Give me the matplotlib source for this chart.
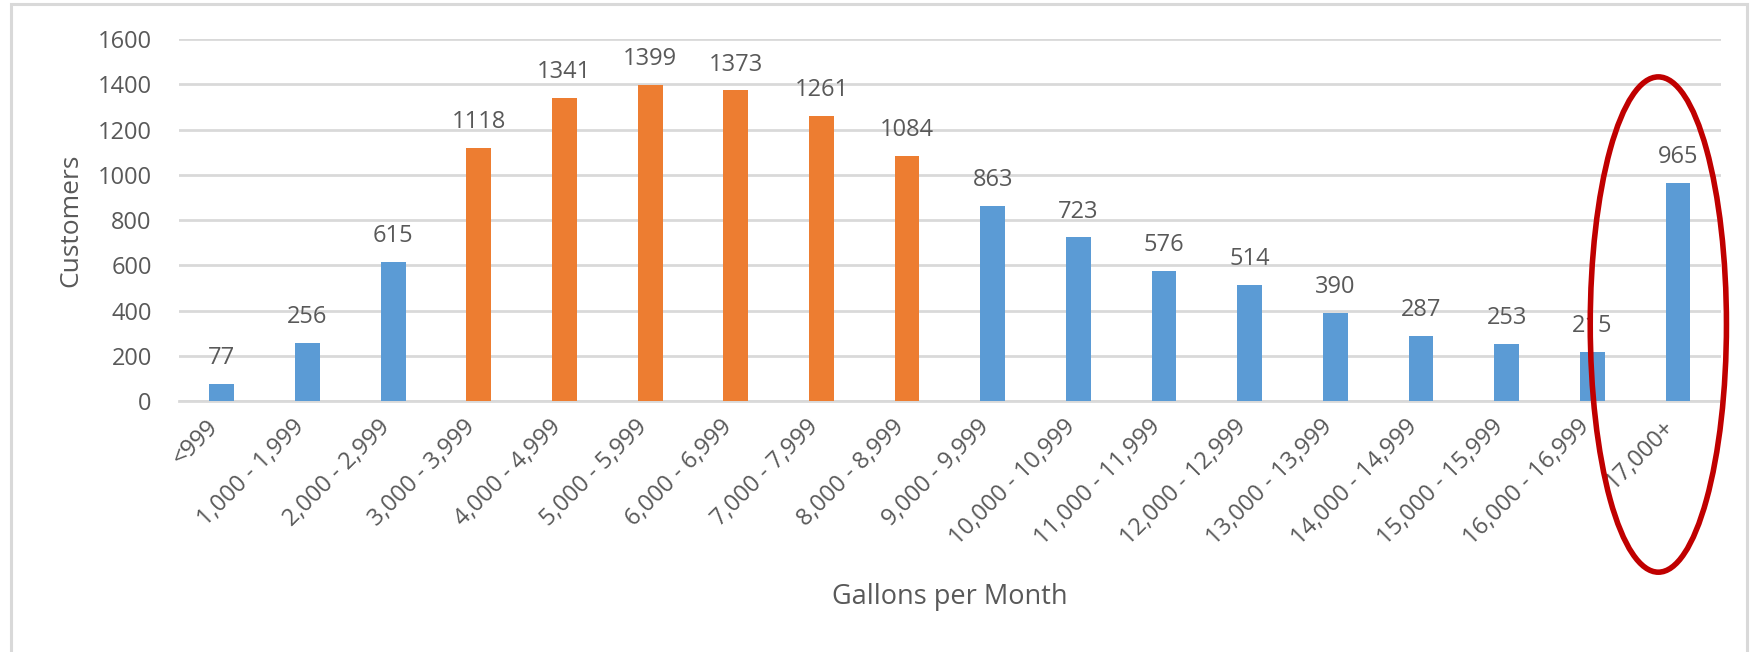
import numpy as np
import matplotlib
matplotlib.use("Agg")
import matplotlib.pyplot as plt
from matplotlib.patches import Ellipse, Rectangle
import matplotlib.transforms as mtransforms

plt.rcParams['font.family'] = ['Open Sans', 'DejaVu Sans']

# datos
rangos = ["<999", "1,000 - 1,999", "2,000 - 2,999", "3,000 - 3,999", "4,000 - 4,999",
          "5,000 - 5,999", "6,000 - 6,999", "7,000 - 7,999", "8,000 - 8,999",
          "9,000 - 9,999", "10,000 - 10,999", "11,000 - 11,999", "12,000 - 12,999",
          "13,000 - 13,999", "14,000 - 14,999", "15,000 - 15,999", "16,000 - 16,999",
          "17,000+"]
clientes = [77, 256, 615, 1118, 1341, 1399, 1373, 1261, 1084,
            863, 723, 576, 514, 390, 287, 253, 215, 965]
resaltados = [3, 4, 5, 6, 7, 8]  # barras naranjas
y_ticks = [0, 200, 400, 600, 800, 1000, 1200, 1400, 1600]

AZUL = "#5B9BD5"
NARANJA = "#ED7D31"
GRIS_TXT = "#595959"
GRIS_LIN = "#D9D9D9"
TAM = 17

fig = plt.figure(figsize=(17.56, 6.52), dpi=100)
ax = fig.add_axes([0.1019, 0.385, 0.8781, 0.555])

x = np.arange(len(rangos))
colores = [NARANJA if i in resaltados else AZUL for i in x]
barras = ax.bar(x, clientes, width=0.29, color=colores, zorder=3)

for xi, v in zip(x, clientes):
    ax.annotate(str(v), (xi, v), xytext=(0, 10), textcoords="offset points",
                ha="center", va="bottom", fontsize=TAM, color=GRIS_TXT, zorder=4)

ax.set_xlim(-0.5, len(rangos) - 0.5)
ax.set_ylim(0, 1600)
ax.set_yticks(y_ticks)
ax.yaxis.grid(True, color=GRIS_LIN, linewidth=2, zorder=0)
ax.set_axisbelow(True)
for s in ["top", "right", "left"]:
    ax.spines[s].set_visible(False)
ax.spines["bottom"].set_color(GRIS_LIN)
ax.spines["bottom"].set_linewidth(2)
ax.tick_params(axis="y", length=0, pad=19.5, labelsize=TAM, labelcolor=GRIS_TXT)
ax.tick_params(axis="x", length=0, pad=10)

ax.set_xticks(x)
ax.set_xticklabels(rangos, rotation=45, ha="right", va="top",
                   rotation_mode="anchor", fontsize=TAM, color=GRIS_TXT)
desplazar = mtransforms.ScaledTranslation(-11 / 72, 0, fig.dpi_scale_trans)
for lab in ax.get_xticklabels():
    lab.set_transform(lab.get_transform() + desplazar)

ax.set_ylabel("Customers", fontsize=19, color=GRIS_TXT, labelpad=10)
fig.text(0.541, 0.085, "Gallons per Month", ha="center", va="center",
         fontsize=19.5, color=GRIS_TXT)

# elipse roja alrededor de la ultima barra
elipse = Ellipse((x[-1] - 0.23, 338), width=1.59, height=2190, fill=False,
                 edgecolor="#C00000", linewidth=4, clip_on=False, zorder=5)
ax.add_patch(elipse)

# marco del grafico
fig.patches.append(Rectangle((0.006, -0.02), 0.989, 1.014, transform=fig.transFigure,
                             fill=False, edgecolor=GRIS_LIN, linewidth=2.2))

fig.savefig("out.png", dpi=100)
